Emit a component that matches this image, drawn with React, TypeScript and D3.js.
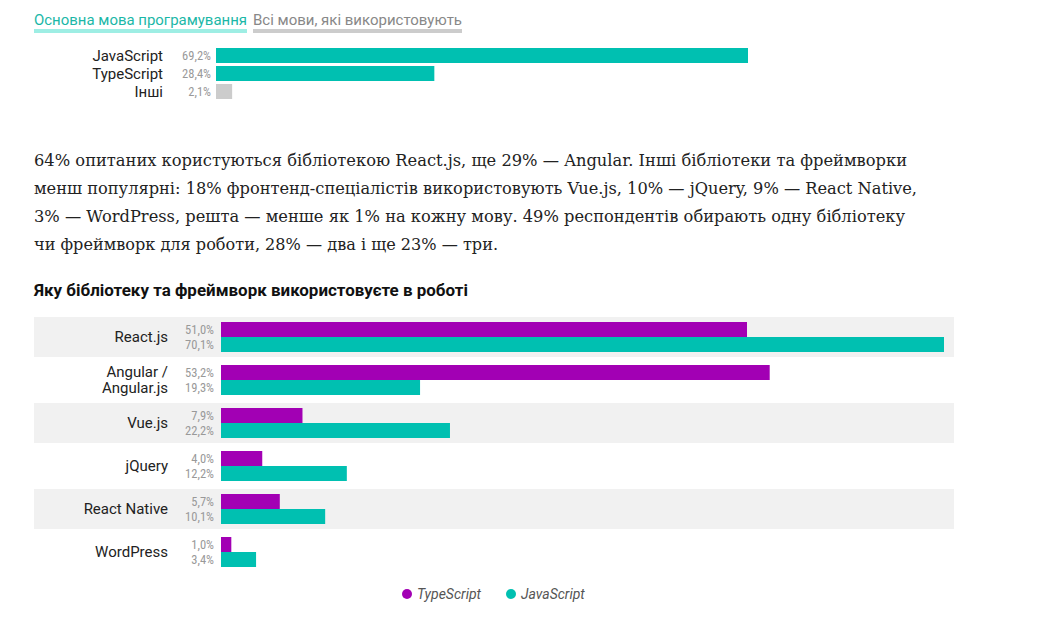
import React, { useEffect } from 'react';
import * as d3 from 'd3';

// top chart: main language
const languages = ['JavaScript', 'TypeScript', 'Інші'];
const languageShares = [69.2, 28.4, 2.1];

// bottom chart: libraries / frameworks
const frameworks = ['React.js', 'Angular /\nAngular.js', 'Vue.js', 'jQuery', 'React Native', 'WordPress'];
const tsShares = [51.0, 53.2, 7.9, 4.0, 5.7, 1.0];
const jsShares = [70.1, 19.3, 22.2, 12.2, 10.1, 3.4];
const seriesNames = ['TypeScript', 'JavaScript'];

const tabs = ['Основна мова програмування', 'Всі мови, які використовують'];
const paragraph = [
  '64% опитаних користуються бібліотекою React.js, ще 29% — Angular. Інші бібліотеки та фреймворки',
  'менш популярні: 18% фронтенд-спеціалістів використовують Vue.js, 10% — jQuery, 9% — React Native,',
  '3% — WordPress, решта — менше як 1% на кожну мову. 49% респондентів обирають одну бібліотеку',
  'чи фреймворк для роботи, 28% — два і ще 23% — три.',
];
const paragraphWidths = [873, 883, 871, 464];
const title = 'Яку бібліотеку та фреймворк використовуєте в роботі';

const PURPLE = '#a200b4';
const TEAL = '#00c0b1';
const sans = 'Roboto, "Noto Sans", sans-serif';
const narrow = '"Liberation Sans Narrow", "Roboto Condensed", Roboto, sans-serif';
const fmt = (v: number) => v.toFixed(1).replace('.', ',') + '%';

const App: React.FC = () => {
  useEffect(() => {
    document.body.style.margin = '0';
  }, []);

  // top chart scales
  const xTop = d3.scaleLinear().domain([0, d3.max(languageShares) as number]).range([216, 748]);
  const yTop = d3.scaleBand<string>().domain(languages).range([48, 99]).paddingInner(3 / 18);

  // bottom chart scales
  const xBot = d3.scaleLinear().domain([0, d3.max(jsShares) as number]).range([221, 944]);
  const yRow = d3.scaleBand<string>().domain(frameworks).range([317, 572]).paddingInner(3 / 43);
  const ySeries = d3.scaleBand<string>().domain(seriesNames).range([5, yRow.bandwidth() - 5]);
  const color = d3.scaleOrdinal<string, string>().domain(seriesNames).range([PURPLE, TEAL]);

  const tabX = [34, 253];
  const tabW = [213, 209];

  return (
    <svg width={1053} height={626} style={{ display: 'block', background: '#fff' }}>
      {/* tabs */}
      {tabs.map((t, i) => (
        <g key={t}>
          <text x={tabX[i]} y={25} fontFamily={sans} fontSize={15} fill={i === 0 ? '#1bb7a7' : '#888'}
            textLength={tabW[i]} lengthAdjust="spacingAndGlyphs">{t}</text>
          <rect x={tabX[i]} y={29} width={tabW[i]} height={4} fill={i === 0 ? '#9eeee4' : '#cccccc'} />
        </g>
      ))}

      {/* top chart */}
      {languages.map((l, i) => {
        const y = yTop(l) as number;
        const h = yTop.bandwidth();
        return (
          <g key={l}>
            <text x={163} y={y + h / 2} dy="0.35em" textAnchor="end" fontFamily={sans} fontSize={15} fill="#222">{l}</text>
            <text x={211} y={y + h / 2} dy="0.35em" textAnchor="end" fontFamily={narrow} fontSize={12.5} fill="#999">{fmt(languageShares[i])}</text>
            <rect x={xTop(0)} y={y} width={xTop(languageShares[i]) - xTop(0)} height={h} fill={i < 2 ? TEAL : '#cccccc'} />
          </g>
        );
      })}

      {/* paragraph */}
      {paragraph.map((line, i) => (
        <text key={i} x={34} y={166 + i * 28} fontFamily='"DejaVu Serif", serif' fontSize={16}
          fill="#222" textLength={paragraphWidths[i]} lengthAdjust="spacingAndGlyphs">{line}</text>
      ))}

      {/* title */}
      <text x={34} y={296} fontFamily={sans} fontWeight="bold" fontSize={16.5} fill="#111"
        textLength={434} lengthAdjust="spacingAndGlyphs">{title}</text>

      {/* bottom chart */}
      {frameworks.map((f, i) => {
        const y = yRow(f) as number;
        const h = yRow.bandwidth();
        const lines = f.split('\n');
        const vals = [tsShares[i], jsShares[i]];
        return (
          <g key={f} transform={`translate(0,${y})`}>
            {i % 2 === 0 && <rect x={34} y={0} width={920} height={h} fill="#f1f1f1" />}
            {lines.map((ln, k) => (
              <text key={k} x={168} y={h / 2 + (k - (lines.length - 1) / 2) * 16} dy="0.35em" textAnchor="end"
                fontFamily={sans} fontSize={15} fill="#222">{ln}</text>
            ))}
            {seriesNames.map((s, k) => {
              const sy = ySeries(s) as number;
              const bh = ySeries.bandwidth();
              return (
                <g key={s}>
                  <text x={214} y={sy + bh / 2} dy="0.35em" textAnchor="end" fontFamily={narrow} fontSize={12.5} fill="#999">{fmt(vals[k])}</text>
                  <rect x={xBot(0)} y={sy} width={xBot(vals[k]) - xBot(0)} height={bh} fill={color(s)} />
                </g>
              );
            })}
          </g>
        );
      })}

      {/* legend */}
      {seriesNames.map((s, i) => (
        <g key={s} transform={`translate(${407 + i * 104},594)`}>
          <circle cx={0} cy={0} r={5} fill={color(s)} />
          <text x={10} y={0} dy="0.35em" fontFamily={sans} fontStyle="italic" fontSize={14} fill="#555">{s}</text>
        </g>
      ))}
    </svg>
  );
};

export default App;
